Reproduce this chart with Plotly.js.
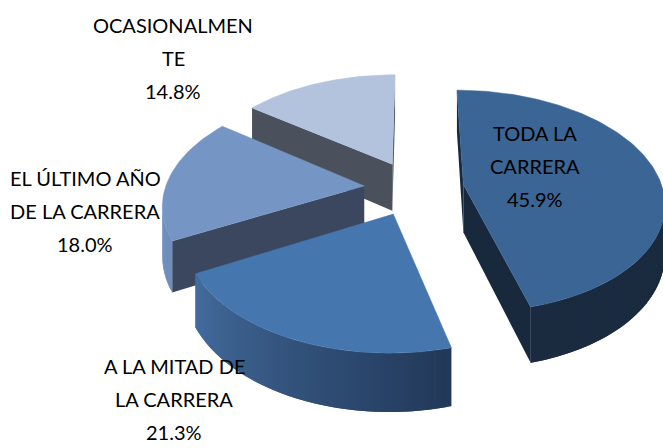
<!DOCTYPE html>
<html><head><meta charset="utf-8">
<script src="https://cdn.plot.ly/plotly-3.0.1.min.js"></script>
<style>html,body{margin:0;padding:0;background:#fff;overflow:hidden}#c{width:663px;height:448px}</style>
</head><body><div id="c"></div>
<script>
const categories = ["TODA LA CARRERA","A LA MITAD DE LA CARRERA","EL ÚLTIMO AÑO DE LA CARRERA","OCASIONALMENTE"];
const values = [45.9,21.3,18.0,14.8];
const labelLines = [
  ["TODA LA","CARRERA","45.9%"],
  ["A LA MITAD DE","LA CARRERA","21.3%"],
  ["EL ÚLTIMO AÑO","DE LA CARRERA","18.0%"],
  ["OCASIONALMEN","TE","14.8%"]
];
const labelX = [535,174,85,173];
const labelY = [133,366,178,25];
const lineGap = 33;
const topColors = ["#3b6594","#4676ae","#7596c5","#b3c2dd"];
const wallColors = ["#19293d","#1f3350","#3b465f","#4a515c"];
const rimStart = ["#19293d","#22395a","#6f8ebc","#4a515c"];
const rimEnd = ["#1a2b40","#446d9f","#7797c6","#4a515c"];

const cx=414, cy=188, R=199, k=0.55, persp=0.15, explode=50, depth=48;
function project(X,Y){
  const s=1/(1+persp*Y/R);
  return {x:cx+X*s, y:cy-k*Y*s, d:depth*s};
}
function hex(c){return [1,3,5].map(i=>parseInt(c.substr(i,2),16));}
function mix(a,b,t){const A=hex(a),B=hex(b);return 'rgb('+A.map((v,i)=>Math.round(v+(B[i]-v)*t)).join(',')+')';}

const total=values.reduce((a,b)=>a+b,0);
const traces=[];
const slices=[]; let acc=0;
values.forEach((v,i)=>{
  const a0=acc/total*2*Math.PI; acc+=v; const a1=acc/total*2*Math.PI;
  const m=(a0+a1)/2, ox=explode*Math.sin(m), oy=explode*Math.cos(m);
  const apex=project(ox,oy), arc=[]; const n=Math.ceil((a1-a0)*50);
  for(let j=0;j<=n;j++){const a=a0+(a1-a0)*j/n; arc.push(project(ox+R*Math.sin(a),oy+R*Math.cos(a)));}
  slices.push({i,apex,arc});
});
function poly(pts,color,name,lw){
  traces.push({type:'scatter',mode:'lines',fill:'toself',fillcolor:color,
    x:pts.map(p=>p[0]),y:pts.map(p=>p[1]),line:{color:color,width:lw},hoverinfo:'skip',name:name,showlegend:false});
}
function quad(a,b,color,name,c){
  if(b.x>=a.x) return;
  const e=c||b;
  poly([[a.x,a.y],[e.x,e.y],[e.x,e.y+e.d],[a.x,a.y+a.d],[a.x,a.y]],color,name,0);
}
[3,2,1,0].forEach(i=>{
  const {apex,arc}=slices[i], name=categories[i];
  quad(apex,arc[0],wallColors[i],name);
  // rim quads overlap the following one so no seam is left between them
  const L=arc.length;
  for(let j=L-2;j>=0;j--) quad(arc[j],arc[j+1],mix(rimStart[i],rimEnd[i],j/(L-2)),name,arc[Math.min(j+2,L-1)]);
  quad(arc[L-1],apex,wallColors[i],name);
  poly([apex,...arc,apex].map(p=>[p.x,p.y]),topColors[i],name,0.5);
});
const annotations=[];
labelLines.forEach((lines,i)=>lines.forEach((t,j)=>annotations.push({
  text:t,x:labelX[i],y:labelY[i]+j*lineGap,xref:'x',yref:'y',showarrow:false,
  xanchor:'center',yanchor:'middle',font:{family:'Lato, Carlito, sans-serif',size:20,color:'#000'}
})));
const hidden={visible:false,fixedrange:true};
Plotly.newPlot('c',traces,{
  width:663,height:448,margin:{l:0,r:0,t:0,b:0},showlegend:false,
  paper_bgcolor:'#fff',plot_bgcolor:'#fff',
  xaxis:{...hidden,range:[0,663]},yaxis:{...hidden,range:[448,0]},annotations
},{displayModeBar:false,staticPlot:true});
</script></body></html>
